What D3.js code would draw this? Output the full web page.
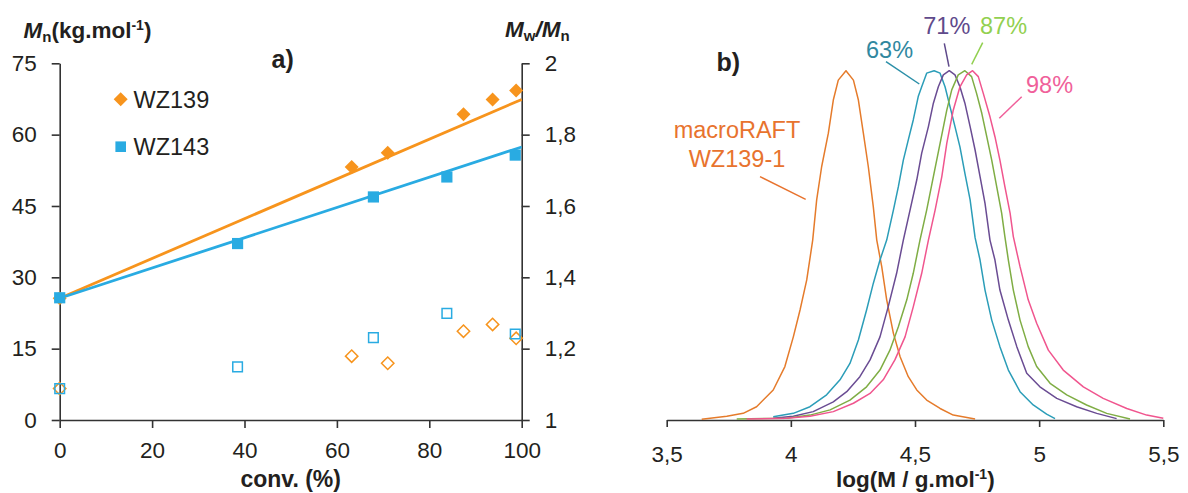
<!DOCTYPE html>
<html><head><meta charset="utf-8">
<script src="https://cdn.jsdelivr.net/npm/d3@7"></script>
<style>
html,body{margin:0;padding:0;background:#fff;}
svg{display:block;font-family:"Liberation Sans",Arial,sans-serif;}
</style></head>
<body>
<svg id="c" width="1188" height="493"></svg>
<script>
// ---------- Panel a) data ----------
const convTicks = [0, 20, 40, 60, 80, 100];
const mnTicks = [0, 15, 30, 45, 60, 75];
const pdiTicks = [1, 1.2, 1.4, 1.6, 1.8, 2];

const conv139 = [0, 63.2, 71.0, 87.4, 93.7, 98.8];
const mn139   = [25.6, 53.2, 56.2, 64.3, 67.4, 69.3];
const pdi139  = [1.088, 1.179, 1.159, 1.249, 1.268, 1.229];

const conv143 = [0, 38.5, 67.9, 83.8, 98.6];
const mn143   = [25.7, 37.1, 46.9, 51.1, 55.7];
const pdi143  = [1.088, 1.149, 1.231, 1.299, 1.241];

const theoryConv = [0, 100];
const theory139 = [25.6, 67.4];
const theory143 = [25.6, 57.4];

// ---------- Panel b) data (logM, normalised signal) ----------
const logTicks = [3.5, 4, 4.5, 5, 5.5];
const secMacro = [[3.641,0.002],[3.742,0.011],[3.808,0.019],[3.862,0.038],[3.929,0.086],[3.976,0.153],[4.010,0.238],[4.037,0.315],[4.064,0.401],[4.088,0.515],[4.104,0.630],[4.124,0.725],[4.151,0.821],[4.171,0.916],[4.191,0.973],[4.222,1.0],[4.252,0.973],[4.272,0.916],[4.292,0.821],[4.312,0.725],[4.332,0.611],[4.346,0.515],[4.366,0.439],[4.386,0.344],[4.413,0.248],[4.440,0.181],[4.473,0.124],[4.507,0.086],[4.547,0.057],[4.601,0.033],[4.654,0.014],[4.742,0.003]];
const sec63 = [[3.929,0.009],[4.010,0.019],[4.077,0.038],[4.144,0.072],[4.198,0.115],[4.238,0.162],[4.272,0.229],[4.305,0.315],[4.332,0.391],[4.359,0.458],[4.386,0.515],[4.413,0.601],[4.433,0.668],[4.453,0.744],[4.473,0.802],[4.493,0.859],[4.513,0.926],[4.527,0.954],[4.547,0.993],[4.577,1.0],[4.601,0.993],[4.621,0.954],[4.641,0.897],[4.661,0.840],[4.681,0.782],[4.701,0.706],[4.722,0.630],[4.742,0.522],[4.762,0.458],[4.782,0.372],[4.809,0.286],[4.842,0.210],[4.876,0.143],[4.923,0.081],[4.976,0.043],[5.030,0.017],[5.064,0.004]];
const sec71 = [[3.929,0.005],[4.010,0.011],[4.090,0.024],[4.171,0.052],[4.225,0.081],[4.278,0.124],[4.319,0.172],[4.359,0.238],[4.392,0.324],[4.426,0.420],[4.453,0.515],[4.480,0.601],[4.507,0.687],[4.527,0.764],[4.554,0.840],[4.574,0.907],[4.594,0.954],[4.614,0.988],[4.638,1.0],[4.661,0.988],[4.681,0.954],[4.701,0.907],[4.722,0.840],[4.742,0.773],[4.762,0.697],[4.782,0.620],[4.802,0.515],[4.822,0.458],[4.842,0.372],[4.876,0.286],[4.910,0.210],[4.950,0.134],[5.003,0.095],[5.071,0.062],[5.151,0.038],[5.232,0.019],[5.312,0.004]];
const sec87 = [[3.782,0.003],[3.983,0.005],[4.077,0.014],[4.158,0.029],[4.238,0.057],[4.305,0.095],[4.359,0.143],[4.399,0.200],[4.433,0.267],[4.467,0.344],[4.493,0.420],[4.520,0.515],[4.547,0.601],[4.574,0.697],[4.601,0.792],[4.628,0.887],[4.648,0.945],[4.674,0.988],[4.701,1.0],[4.728,0.983],[4.748,0.935],[4.769,0.878],[4.789,0.811],[4.809,0.744],[4.829,0.668],[4.849,0.592],[4.862,0.525],[4.876,0.458],[4.896,0.372],[4.923,0.286],[4.956,0.210],[4.990,0.153],[5.044,0.105],[5.111,0.072],[5.191,0.043],[5.272,0.019],[5.366,0.003]];
const sec98 = [[3.822,0.003],[3.983,0.005],[4.077,0.011],[4.171,0.024],[4.252,0.048],[4.319,0.076],[4.372,0.115],[4.419,0.172],[4.460,0.238],[4.493,0.324],[4.527,0.420],[4.554,0.515],[4.581,0.601],[4.608,0.697],[4.628,0.792],[4.654,0.887],[4.681,0.954],[4.708,0.988],[4.732,1.0],[4.755,0.983],[4.775,0.935],[4.802,0.868],[4.822,0.811],[4.842,0.744],[4.862,0.668],[4.883,0.592],[4.896,0.525],[4.923,0.439],[4.956,0.344],[4.990,0.277],[5.037,0.200],[5.097,0.143],[5.178,0.095],[5.258,0.062],[5.353,0.033],[5.433,0.014],[5.500,0.005]];

const secLabels = ["macroRAFT", "WZ139-1", "63%", "71%", "87%", "98%"];

// ---------- Drawing ----------
const svg = d3.select("#c");
const FONT = 22.5;
const axisCol = "#333333";
const commaFmt = d => String(d).replace(".", ",");

const ORANGE = "#F7941D", BLUE = "#29ABE2";

// Panel a scales
const xA = d3.scaleLinear().domain([0, 100]).range([59.7, 521.7]);
const yA = d3.scaleLinear().domain([0, 75]).range([420, 63.3]);
const yA2 = d3.scaleLinear().domain([1, 2]).range([420, 63.3]);

function styleAxis(g) {
  g.selectAll("path.domain").attr("stroke", axisCol).attr("stroke-width", 1.6);
  g.selectAll(".tick line").attr("stroke", axisCol).attr("stroke-width", 1.6);
  g.selectAll(".tick text").attr("fill", "#231f20").attr("font-size", FONT)
    .attr("font-family", "'Liberation Sans',Arial,sans-serif");
}

const gL = svg.append("g").attr("transform", `translate(${xA(0)},0)`)
  .call(d3.axisLeft(yA).tickValues(mnTicks).tickSize(8).tickSizeOuter(0).tickPadding(15));
styleAxis(gL);
const gR = svg.append("g").attr("transform", `translate(${xA(100)},0)`)
  .call(d3.axisRight(yA2).tickValues(pdiTicks).tickSize(8).tickSizeOuter(0).tickPadding(15).tickFormat(commaFmt));
styleAxis(gR);
const gB = svg.append("g").attr("transform", `translate(0,${yA(0)})`)
  .call(d3.axisBottom(xA).tickValues(convTicks).tickSize(8).tickSizeOuter(0).tickPadding(14));
styleAxis(gB);
gB.selectAll(".tick text").attr("dy", "0.71em");

// theory lines
const lineA = d3.line().x(d => xA(d[0])).y(d => yA(d[1]));
svg.append("path").datum(theoryConv.map((c, i) => [c, theory139[i]]))
  .attr("d", lineA).attr("fill", "none").attr("stroke", ORANGE).attr("stroke-width", 2.8);
svg.append("path").datum(theoryConv.map((c, i) => [c, theory143[i]]))
  .attr("d", lineA).attr("fill", "none").attr("stroke", BLUE).attr("stroke-width", 2.8);

const diamond = (s) => `M0,${-s}L${s},0L0,${s}L${-s},0Z`;
const square = (s) => `M${-s},${-s}H${s}V${s}H${-s}Z`;

// open markers (PDI)
svg.append("g").selectAll("path").data(conv139.map((c, i) => [c, pdi139[i]])).join("path")
  .attr("transform", d => `translate(${xA(d[0])},${yA2(d[1])})`)
  .attr("d", diamond(6.2)).attr("fill", "none").attr("stroke", ORANGE).attr("stroke-width", 1.5);
svg.append("g").selectAll("path").data(conv143.map((c, i) => [c, pdi143[i]])).join("path")
  .attr("transform", d => `translate(${xA(d[0])},${yA2(d[1])})`)
  .attr("d", square(4.8)).attr("fill", "none").attr("stroke", BLUE).attr("stroke-width", 1.5);

// filled markers (Mn)
svg.append("g").selectAll("path").data(conv139.map((c, i) => [c, mn139[i]])).join("path")
  .attr("transform", d => `translate(${xA(d[0])},${yA(d[1])})`)
  .attr("d", diamond(7)).attr("fill", ORANGE);
svg.append("g").selectAll("path").data(conv143.map((c, i) => [c, mn143[i]])).join("path")
  .attr("transform", d => `translate(${xA(d[0])},${yA(d[1])})`)
  .attr("d", square(5.6)).attr("fill", BLUE);

// legend
const seriesNames = ["WZ139", "WZ143"];
svg.append("path").attr("transform", "translate(120.7,99.3)").attr("d", diamond(7)).attr("fill", ORANGE);
svg.append("path").attr("transform", "translate(120.7,146.7)").attr("d", square(5.3)).attr("fill", BLUE);
svg.append("text").attr("x", 133.5).attr("y", 107.8).attr("font-size", 23.5).attr("fill", "#231f20").text(seriesNames[0]);
svg.append("text").attr("x", 133.5).attr("y", 155.4).attr("font-size", 23.5).attr("fill", "#231f20").text(seriesNames[1]);

// titles panel a
const t1 = svg.append("text").attr("x", 23.5).attr("y", 38).attr("font-size", 22.5).attr("font-weight", "bold").attr("fill", "#231f20");
t1.append("tspan").attr("font-style", "italic").text("M");
t1.append("tspan").attr("font-size", 15).attr("dy", 4).text("n");
t1.append("tspan").attr("dy", -4).text("(kg.mol");
t1.append("tspan").attr("font-size", 14).attr("dy", -8).text("-1");
t1.append("tspan").attr("dy", 8).text(")");

const t2 = svg.append("text").attr("x", 505).attr("y", 36.5).attr("font-size", 22.5).attr("font-weight", "bold").attr("fill", "#231f20");
t2.append("tspan").attr("font-style", "italic").text("M");
t2.append("tspan").attr("font-size", 15).attr("dy", 4).text("w");
t2.append("tspan").attr("dy", -4).attr("font-style", "italic").text("/M");
t2.append("tspan").attr("font-size", 15).attr("dy", 4).text("n");

svg.append("text").attr("x", 290.7).attr("y", 486.5).attr("text-anchor", "middle")
  .attr("font-size", 23).attr("font-weight", "bold").attr("fill", "#231f20").text("conv. (%)");
svg.append("text").attr("x", 271.5).attr("y", 68.3).attr("font-size", 25).attr("font-weight", "bold").attr("fill", "#231f20").text("a)");

// ---------- Panel b ----------
const xB = d3.scaleLinear().domain([3.5, 5.5]).range([666.7, 1163.3]);
const yB = d3.scaleLinear().domain([0, 1]).range([420, 70.7]);

const gB2 = svg.append("g").attr("transform", `translate(0,${yB(0)})`)
  .call(d3.axisBottom(xB).tickValues(logTicks).tickSize(7).tickSizeOuter(0).tickPadding(19).tickFormat(commaFmt));
styleAxis(gB2);
gB2.selectAll(".tick text").attr("dy", "0.71em");

const lineB = d3.line().x(d => xB(d[0])).y(d => yB(d[1]));
const curves = [
  {data: secMacro, color: "#E57B2B"},
  {data: sec63, color: "#2B9DB8"},
  {data: sec71, color: "#6A4C93"},
  {data: sec87, color: "#7FAD44"},
  {data: sec98, color: "#F0558E"}
];
curves.forEach(c => {
  svg.append("path").datum(c.data).attr("d", lineB).attr("fill", "none")
    .attr("stroke", c.color).attr("stroke-width", 1.5).attr("stroke-linejoin", "round");
});

// labels and leader lines
const lbl = (x, y, txt, col, anchor) => svg.append("text").attr("x", x).attr("y", y).attr("font-size", 23.5)
  .attr("fill", col).attr("text-anchor", anchor || "start").text(txt);
lbl(737, 138.3, secLabels[0], "#E8732E", "middle");
lbl(737, 166.7, secLabels[1], "#E8732E", "middle");
lbl(866, 57.5, secLabels[2], "#31889F");
lbl(923.3, 34.3, secLabels[3], "#5F4A8B");
lbl(980, 34.3, secLabels[4], "#92D050");
lbl(1026, 92.7, secLabels[5], "#F0609A");

const leader = (x1, y1, x2, y2, col) => svg.append("line").attr("x1", x1).attr("y1", y1).attr("x2", x2).attr("y2", y2)
  .attr("stroke", col).attr("stroke-width", 1.5);
leader(760, 176.7, 805.7, 199.3, "#E8732E");
leader(886, 61.7, 919.3, 84, "#2B8FA8");
leader(944.3, 43.3, 949, 66.7, "#5F4A8B");
leader(982.7, 42.7, 971.7, 64.3, "#92D050");
leader(1021.7, 96.7, 999.3, 118.3, "#F0609A");

const t3 = svg.append("text").attr("x", 915.3).attr("y", 486.5).attr("text-anchor", "middle")
  .attr("font-size", 22.5).attr("font-weight", "bold").attr("fill", "#231f20");
t3.append("tspan").text("log(M / g.mol");
t3.append("tspan").attr("font-size", 14).attr("dy", -8).text("-1");
t3.append("tspan").attr("dy", 8).text(")");

svg.append("text").attr("x", 716.5).attr("y", 70.7).attr("font-size", 25).attr("font-weight", "bold").attr("fill", "#231f20").text("b)");
</script>
</body></html>
